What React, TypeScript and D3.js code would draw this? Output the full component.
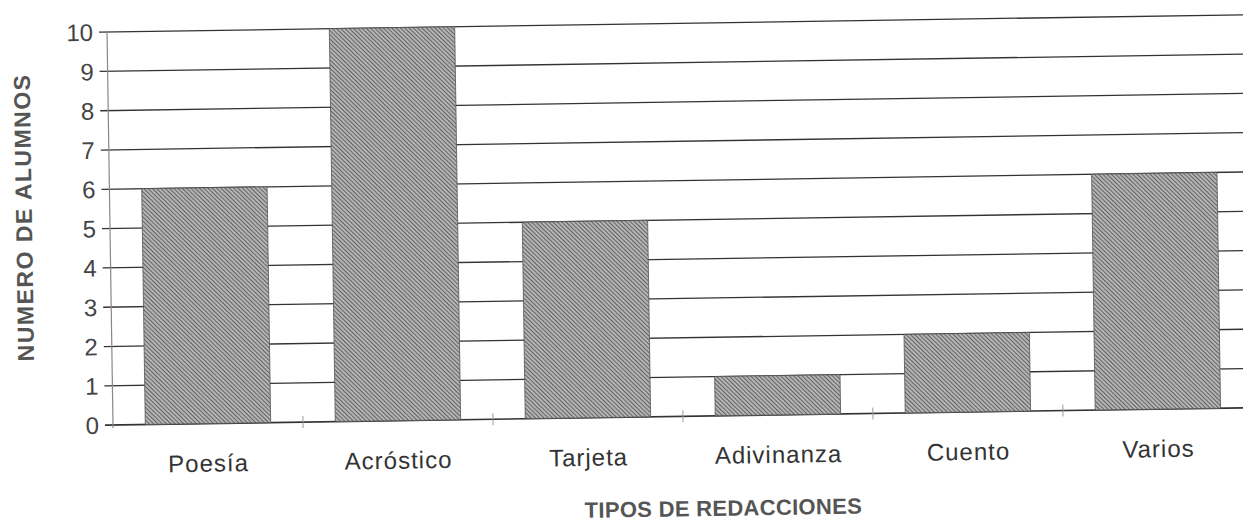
import React from 'react';
import * as d3 from 'd3';

const categories = ['Poesía', 'Acróstico', 'Tarjeta', 'Adivinanza', 'Cuento', 'Varios'];
const alumnos = [6, 10, 5, 1, 2, 6];
const yTicks = [0, 1, 2, 3, 4, 5, 6, 7, 8, 9, 10];

const width = 1243;
const height = 522;
const left = 113;
const right = 1253;
const bottom = 425;
const top = 32;

const App = () => {
    const x = d3.scaleBand<string>()
        .domain(categories)
        .range([left, right])
        .paddingInner(0.34)
        .paddingOuter(0.17);
    const y = d3.scaleLinear().domain([0, 10]).range([bottom, top]);

    const step = x.step();
    const font = '"Liberation Sans", Arial, sans-serif';

    return (
        <svg width={width} height={height} style={{ position: 'absolute', left: 0, top: 0, background: '#fff' }}>
            <defs>
                <pattern id="hatch" width="3" height="3" patternUnits="userSpaceOnUse" patternTransform="rotate(-45)">
                    <rect width="3" height="3" fill="#b4b4b4" />
                    <line x1="0" y1="0" x2="0" y2="3" stroke="#505050" strokeWidth="1.6" />
                </pattern>
            </defs>
            <g transform={`rotate(-0.87, ${left}, ${bottom})`}>
                {/* grid lines */}
                {yTicks.map(t => (
                    <line key={t} x1={left - 8} x2={right} y1={y(t)} y2={y(t)}
                        stroke="#333" strokeWidth={t === 0 ? 1.6 : 1.3} />
                ))}
                {/* y axis */}
                <line x1={left} x2={left} y1={y(0) + 3} y2={y(10)} stroke="#888" strokeWidth="1.2" />
                {/* x ticks between categories */}
                {categories.slice(1).map(c => (
                    <line key={c} x1={x(c)! - (step - x.bandwidth()) / 2} x2={x(c)! - (step - x.bandwidth()) / 2}
                        y1={bottom - 6} y2={bottom + 6} stroke="#999" strokeWidth="1" />
                ))}
                {/* bars */}
                {categories.map((c, i) => (
                    <rect key={c} x={x(c)} y={y(alumnos[i])} width={x.bandwidth()} height={y(0) - y(alumnos[i])}
                        fill="url(#hatch)" stroke="#555" strokeWidth="0.8" />
                ))}
                {/* y tick labels */}
                {yTicks.map(t => (
                    <text key={t} x={left - 14} y={y(t)} dy="0.36em" textAnchor="end"
                        fontFamily={font} fontSize="24" fill="#444">{t}</text>
                ))}
                {/* category labels */}
                {categories.map(c => (
                    <text key={c} x={x(c)! + x.bandwidth() / 2} y={bottom + 48} textAnchor="middle"
                        fontFamily={font} fontSize="24" letterSpacing="1" fill="#333">{c}</text>
                ))}
                {/* axis titles */}
                <text transform={`translate(35, 216) rotate(-90)`} textAnchor="middle"
                    fontFamily={font} fontSize="23" fontWeight="bold" letterSpacing="1.5" fill="#555">NUMERO DE ALUMNOS</text>
                <text x={722} y={bottom + 100} textAnchor="middle"
                    fontFamily={font} fontSize="22" fontWeight="bold" letterSpacing="0.3" fill="#555">TIPOS DE REDACCIONES</text>
            </g>
        </svg>
    );
};

export default App;
